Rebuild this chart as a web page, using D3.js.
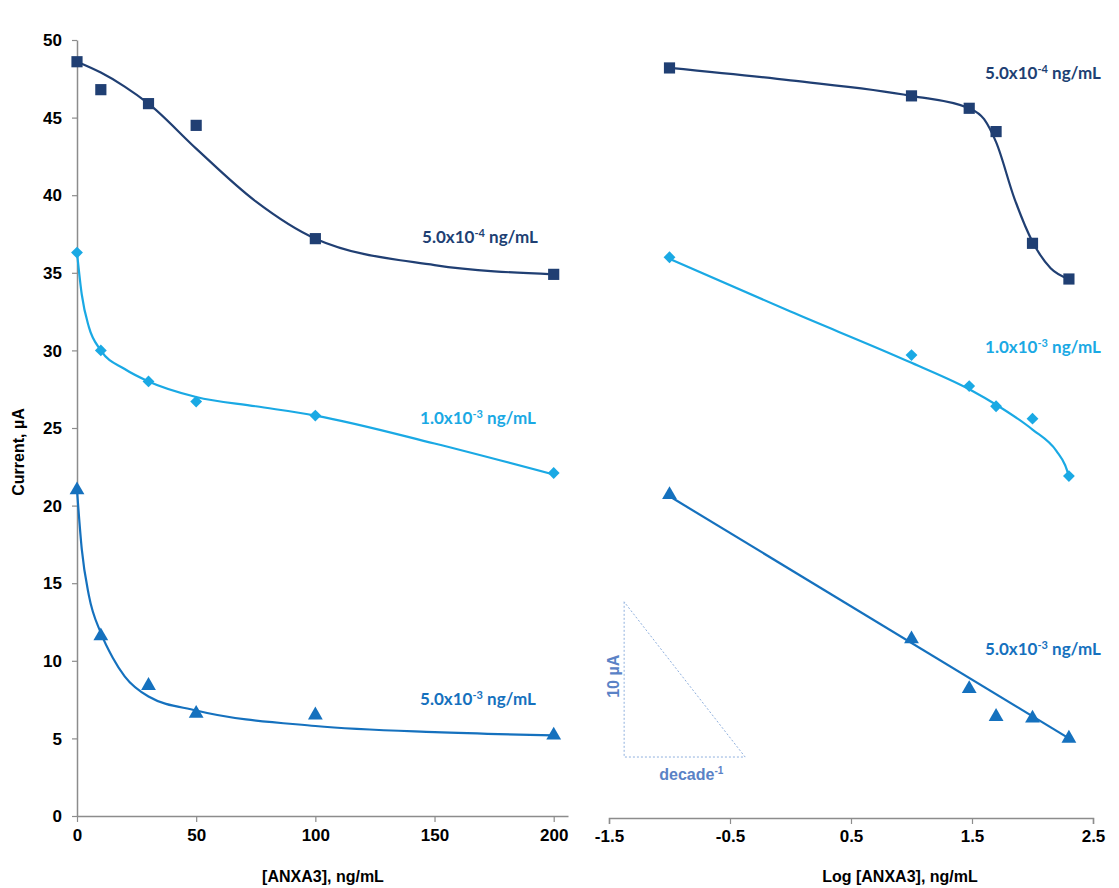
<!DOCTYPE html>
<html>
<head>
<meta charset="utf-8">
<script src="https://cdn.jsdelivr.net/npm/d3@7"></script>
<style>
  body { margin: 0; background: #fff; }
  .tick text { font-family: "Liberation Sans", Arial, sans-serif; font-weight: bold; font-size: 17px; fill: #000; }
  .axisLabel { font-family: "Liberation Sans", Arial, sans-serif; font-weight: bold; font-size: 16px; }
  .seriesLabel { font-family: Lato, "Open Sans", sans-serif; font-weight: bold; font-size: 17px; }
</style>
</head>
<body>
<div id="here"></div>
<script>
// DATA
// left panel: current vs concentration
const concs = [0, 10, 30, 50, 100, 200];
const left_5e4 = [48.6, 46.8, 45.9, 44.5, 37.2, 34.9];
const left_1e3 = [36.3, 30.0, 28.0, 26.7, 25.8, 22.1];
const left_5e3 = [21.0, 11.6, 8.4, 6.6, 6.5, 5.2];

// fitted curves
const fitConcs_5e4 = [0, 10, 20, 30, 50, 75, 100, 150, 200];
const fitLeft_5e4 = [48.6, 47.9, 47.0, 45.9, 43.0, 39.6, 37.2, 35.5, 34.9];
const fitConcs_1e3 = [0, 2, 5, 10, 20, 30, 50, 75, 100, 150, 200];
const fitLeft_1e3 = [36.3, 33.6, 31.5, 30.0, 28.8, 28.0, 27.0, 26.4, 25.8, 24.0, 22.0];
const fitConcs_5e3 = [0, 2, 5, 10, 15, 20, 30, 50, 100, 150, 200];
const fitLeft_5e3 = [21.0, 17.2, 14.2, 11.8, 10.2, 9.0, 7.7, 6.8, 5.8, 5.4, 5.2];

// right panel: current vs log concentration
const logConcs = [-1, 1, 1.477, 1.699, 2, 2.301];
const right_5e4 = [48.2, 46.4, 45.6, 44.1, 36.9, 34.6];
const right_1e3 = [36.0, 29.7, 27.7, 26.4, 25.6, 21.9];
const right_5e3 = [20.7, 11.4, 8.2, 6.4, 6.3, 5.0];

const fitLog_5e4 = [-1, 0, 1, 1.477, 1.6, 1.7, 1.85, 2.0, 2.15, 2.301];
const fitRight_5e4 = [48.2, 47.4, 46.4, 45.6, 44.9, 43.4, 39.8, 37.0, 35.3, 34.6];
const fitLog_1e3 = [-1, 0, 1, 1.5, 1.7, 2.0, 2.2, 2.27, 2.301];
const fitRight_1e3 = [35.9, 32.5, 29.2, 27.4, 26.5, 24.9, 23.5, 22.6, 21.9];
const fitLog_5e3 = [-1, 2.301];
const fitRight_5e3 = [20.6, 5.0];

const leftXTicks = [0, 50, 100, 150, 200];
const rightXTicks = [-1.5, -0.5, 0.5, 1.5, 2.5];
const yTicks = [0, 5, 10, 15, 20, 25, 30, 35, 40, 45, 50];

const seriesLabels = ["5.0x10", "1.0x10", "5.0x10"];
const seriesExps = ["-4", "-3", "-3"];

const navy = "#203f73", sky = "#1aa9e4", mid = "#1571be";

// CANVAS
const width = 1119, height = 888;
const svg = d3.select("#here").append("svg")
  .attr("width", width).attr("height", height);

const y = d3.scaleLinear().domain([0, 50]).range([816, 40]);
const xL = d3.scaleLinear().domain([0, 206]).range([77, 568]);
const xR = d3.scaleLinear().domain([-1.5, 2.5]).range([609, 1093]);

// axes
function styleAxis(g) {
  g.select(".domain").attr("stroke", "#8c8c8c").attr("stroke-width", 1.5);
  g.selectAll(".tick line").attr("stroke", "#8c8c8c").attr("stroke-width", 1.2);
}

svg.append("g")
  .attr("transform", `translate(0, ${y(0)})`)
  .call(d3.axisBottom(xL).tickValues(leftXTicks).tickSize(6).tickSizeOuter(0).tickPadding(7))
  .call(styleAxis);

svg.append("g")
  .attr("transform", `translate(${xL(0)}, 0)`)
  .call(d3.axisLeft(y).tickValues(yTicks).tickSize(5).tickSizeOuter(0).tickPadding(10))
  .call(styleAxis)
  .call(g => g.selectAll(".tick text").attr("dy", "0.34em"));

svg.append("g")
  .attr("transform", `translate(0, ${y(0) + 2})`)
  .call(d3.axisBottom(xR).tickValues(rightXTicks).tickFormat(d => d.toFixed(1)).tickSize(6).tickSizeOuter(6).tickPadding(6))
  .call(styleAxis);

// axis labels
svg.append("text").attr("class", "axisLabel")
  .attr("x", 323).attr("y", 882).attr("text-anchor", "middle")
  .text("[ANXA3], ng/mL");
svg.append("text").attr("class", "axisLabel")
  .attr("x", 900).attr("y", 882).attr("text-anchor", "middle")
  .text("Log [ANXA3], ng/mL");
svg.append("text").attr("class", "axisLabel")
  .attr("transform", "translate(24, 452) rotate(-90)")
  .attr("text-anchor", "middle")
  .text("Current, µA");

// diamond as a square turned 45 degrees
const diamond = {
  draw(ctx, size) {
    const r = Math.sqrt(size / 2);
    ctx.moveTo(0, -r); ctx.lineTo(r, 0); ctx.lineTo(0, r); ctx.lineTo(-r, 0); ctx.closePath();
  }
};

// lines + markers
function drawSeries(xs, ys, fx, fy, xScale, color, symbolType, size) {
  const line = d3.line()
    .x(d => xScale(d[0])).y(d => y(d[1]))
    .curve(d3.curveMonotoneX);
  svg.append("path")
    .datum(fx.map((v, i) => [v, fy[i]]))
    .attr("d", line)
    .attr("fill", "none").attr("stroke", color).attr("stroke-width", 2.2);
  svg.append("g").selectAll("path")
    .data(xs.map((v, i) => [v, ys[i]]))
    .enter().append("path")
    .attr("transform", d => `translate(${xScale(d[0])}, ${y(d[1])})`)
    .attr("d", d3.symbol().type(symbolType).size(size))
    .attr("fill", color);
}

drawSeries(concs, left_5e4, fitConcs_5e4, fitLeft_5e4, xL, navy, d3.symbolSquare, 125);
drawSeries(concs, left_1e3, fitConcs_1e3, fitLeft_1e3, xL, sky, diamond, 70);
drawSeries(concs, left_5e3, fitConcs_5e3, fitLeft_5e3, xL, mid, d3.symbolTriangle, 95);

drawSeries(logConcs, right_5e4, fitLog_5e4, fitRight_5e4, xR, navy, d3.symbolSquare, 125);
drawSeries(logConcs, right_1e3, fitLog_1e3, fitRight_1e3, xR, sky, diamond, 70);
drawSeries(logConcs, right_5e3, fitLog_5e3, fitRight_5e3, xR, mid, d3.symbolTriangle, 95);

// series labels
function seriesLabel(x, yy, i, color) {
  const t = svg.append("text").attr("class", "seriesLabel")
    .attr("x", x).attr("y", yy).attr("text-anchor", "middle").attr("fill", color);
  t.append("tspan").text(seriesLabels[i]);
  t.append("tspan").attr("dy", -6).attr("font-size", 11).text(seriesExps[i]);
  t.append("tspan").attr("dy", 6).text(" ng/mL");
}
seriesLabel(480, 243, 0, navy);
seriesLabel(478, 424, 1, sky);
seriesLabel(478, 705, 2, mid);
seriesLabel(1043, 79, 0, navy);
seriesLabel(1043, 353, 1, sky);
seriesLabel(1043, 655, 2, mid);

// slope triangle: 10 µA per decade
const triX0 = -1.375, triX1 = -0.375, triY0 = 3.8, triY1 = 13.8;
svg.append("path")
  .attr("d", `M${xR(triX0)},${y(triY1)} L${xR(triX0)},${y(triY0)} L${xR(triX1)},${y(triY0)} Z`)
  .attr("fill", "none").attr("stroke", "#8fb0de").attr("stroke-width", 1)
  .attr("stroke-dasharray", "2,2");
svg.append("text").attr("class", "axisLabel")
  .attr("transform", `translate(${xR(triX0) - 5}, ${y(9)}) rotate(-90)`)
  .attr("text-anchor", "middle").attr("fill", "#5a82c6")
  .text("10 µA");
const dec = svg.append("text").attr("class", "axisLabel")
  .attr("x", xR(-0.82)).attr("y", 780).attr("text-anchor", "middle").attr("fill", "#5a82c6");
dec.append("tspan").text("decade");
dec.append("tspan").attr("dy", -6).attr("font-size", 10).text("-1");
</script>
</body>
</html>
